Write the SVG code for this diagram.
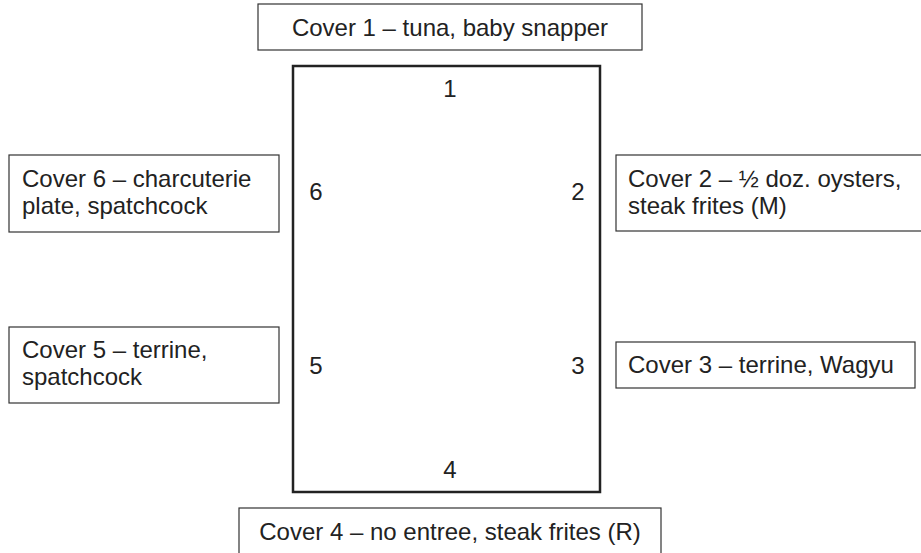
<svg xmlns="http://www.w3.org/2000/svg" width="921" height="553" viewBox="0 0 921 553">
<style>
text{font-family:"Liberation Sans",Arial,sans-serif;font-size:24px;fill:#222}
.box{fill:#fff;stroke:#333;stroke-width:1.2}
.table{fill:#fff;stroke:#222;stroke-width:2.5}
.c{text-anchor:middle}
</style>
<rect width="921" height="553" fill="#fff"/>
<g id="table">
<rect class="table" x="293" y="66" width="307" height="426"/>
<text class="c" x="450" y="97">1</text>
<text class="c" x="578" y="200">2</text>
<text class="c" x="578" y="374">3</text>
<text class="c" x="450" y="478">4</text>
<text class="c" x="316" y="374">5</text>
<text class="c" x="316" y="200">6</text>
</g>
<g id="cover1">
<rect class="box" x="258" y="4" width="384" height="46"/>
<text class="c" x="450" y="36">Cover 1 – tuna, baby snapper</text>
</g>
<g id="cover2">
<rect class="box" x="616" y="155" width="310" height="76"/>
<text x="628" y="187">Cover 2 – ½ doz. oysters,</text>
<text x="628" y="214">steak frites (M)</text>
</g>
<g id="cover3">
<rect class="box" x="616" y="342" width="299" height="46"/>
<text x="628" y="373">Cover 3 – terrine, Wagyu</text>
</g>
<g id="cover4">
<rect class="box" x="239" y="508" width="422" height="60"/>
<text class="c" x="450" y="540">Cover 4 – no entree, steak frites (R)</text>
</g>
<g id="cover5">
<rect class="box" x="9" y="327" width="270" height="76"/>
<text x="22" y="358">Cover 5 – terrine,</text>
<text x="22" y="385">spatchcock</text>
</g>
<g id="cover6">
<rect class="box" x="9" y="155" width="270" height="77"/>
<text x="22" y="187">Cover 6 – charcuterie</text>
<text x="22" y="214">plate, spatchcock</text>
</g>
<g id="connectors"></g>
</svg>
